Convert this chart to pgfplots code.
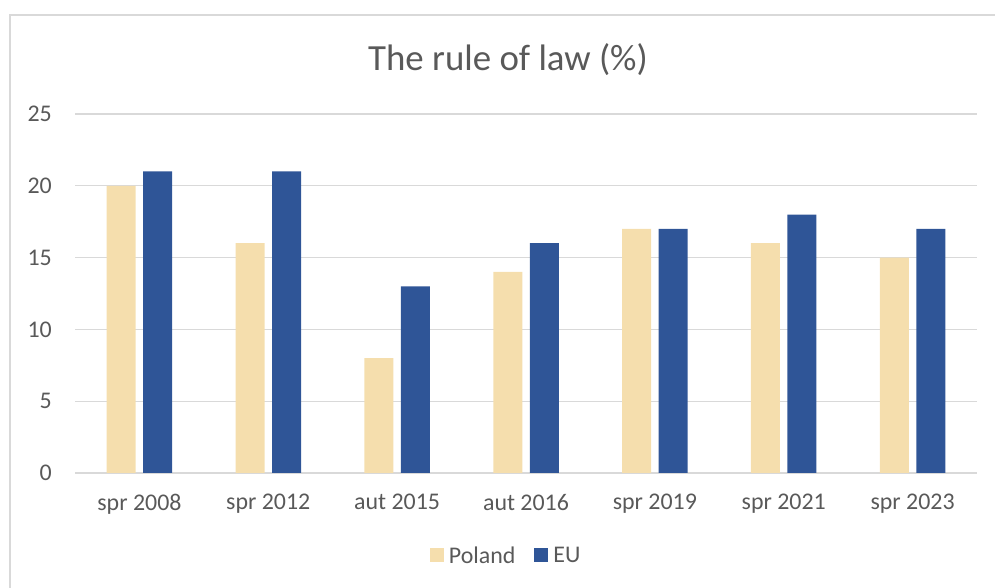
\documentclass[border=0pt]{standalone}
\usepackage{fontspec}
\setmainfont{Carlito}
\usepackage{pgfplots}
\pgfplotsset{compat=1.18}
\definecolor{pl}{HTML}{F5DEAD}
\definecolor{eu}{HTML}{2F5597}
\definecolor{txt}{HTML}{595959}
\definecolor{gridc}{HTML}{D9D9D9}
\begin{document}
\begin{tikzpicture}
\useasboundingbox (0,0) rectangle (995bp,588bp);
\draw[gridc, line width=1.5bp] (10bp,0) -- (10bp,573bp) -- (995bp,573bp);
\node[txt, font=\fontsize{37}{44}\selectfont] at (508bp,528bp) {The rule of law (\%)};
\begin{axis}[
  at={(75bp,115bp)}, anchor=south west,
  scale only axis, width=902bp, height=359bp,
  ybar=7.5bp, bar width=29bp,
  xmin=-0.5, xmax=6.5, ymin=0, ymax=25,
  xtick={0,1,2,3,4,5,6},
  xticklabels={spr 2008,spr 2012,aut 2015,aut 2016,spr 2019,spr 2021,spr 2023},
  ytick={0,5,10,15,20,25},
  major tick length=0pt,
  axis line style={draw=none},
  ymajorgrids, grid style={gridc, line width=1.2bp},
  tick label style={txt, font=\fontsize{24}{28}\selectfont},
  /pgf/number format/assume math mode=true,
  yticklabel style={anchor=east, inner sep=0pt, xshift=-23bp},
  xticklabel style={anchor=north, inner sep=0pt, yshift=-21bp},
  legend style={at={(0.478,-0.231)}, anchor=center, draw=none, fill=none,
    legend columns=2, font=\fontsize{24}{28}\selectfont, text=txt,
    /tikz/every odd column/.append style={column sep=3bp},
    /tikz/every even column/.append style={column sep=17bp}},
  legend image code/.code={\fill[#1] (0bp,-6.5bp) rectangle (14bp,7.5bp);},
]
\addplot[fill=pl, draw=none] coordinates {(0,20) (1,16) (2,8) (3,14) (4,17) (5,16) (6,15)};
\addplot[fill=eu, draw=none] coordinates {(0,21) (1,21) (2,13) (3,16) (4,17) (5,18) (6,17)};
\legend{Poland, EU}
\end{axis}
\end{tikzpicture}
\end{document}
